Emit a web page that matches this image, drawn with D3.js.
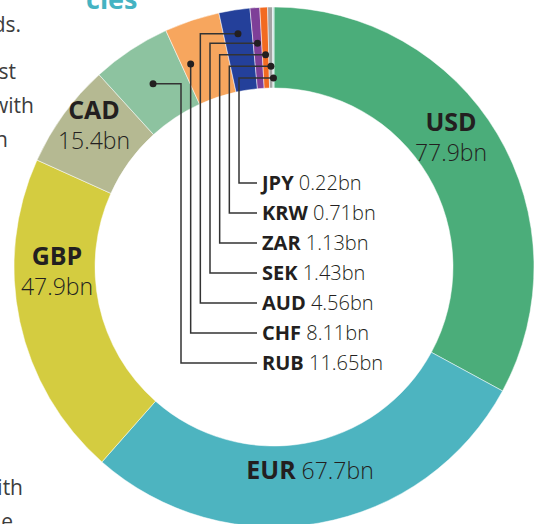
<!DOCTYPE html>
<html>
<head>
<meta charset="utf-8">
<script src="https://cdn.jsdelivr.net/npm/d3@7"></script>
<style>
  html, body { margin: 0; padding: 0; background: #fff; }
  svg { display: block; font-family: "Open Sans", "DejaVu Sans", sans-serif; }
</style>
</head>
<body>
<div id="chart"></div>
<script>
// currency reserves, in bn
const currencies = ['USD', 'EUR', 'GBP', 'CAD', 'RUB', 'CHF', 'AUD', 'SEK', 'ZAR', 'KRW', 'JPY'];
const valuesBn = [77.9, 67.7, 47.9, 15.4, 11.65, 8.11, 4.56, 1.43, 1.13, 0.71, 0.22];
const sliceColors = ['#4bad7a', '#4db4c0', '#d4cc40', '#b5b992', '#8dc3a0', '#f7a65e',
                     '#24409a', '#7e3f98', '#f26a21', '#a3a3a3', '#bfe2df'];
// the small slices get a leader line to a label stack
const calloutKeys = ['RUB', 'CHF', 'AUD', 'SEK', 'ZAR', 'KRW', 'JPY'];

const width = 544;
const height = 524;
const cx = 274, cy = 267;
const outerR = 260, innerR = 179;
const ink = '#231f20';

const data = currencies.map((c, i) => ({ key: c, value: valuesBn[i], color: sliceColors[i] }));

const svg = d3.select('#chart').append('svg')
  .attr('width', width)
  .attr('height', height);

// bits of the neighbouring page column, cut off by the crop
const bodyText = svg.append('g').attr('fill', '#3d3d3d').attr('font-size', 21).attr('text-anchor', 'end');
[['ds.', 21, 32], ['st', 16, 79], ['with', 34, 113], ['n', 8, 147], ['ith', 23, 495], ['e', 13, 529]]
  .forEach(([t, x, y]) => bodyText.append('text').attr('x', x).attr('y', y).text(t));

svg.append('text')
  .attr('x', 86).attr('y', 9)
  .attr('fill', '#45b3c2')
  .attr('font-size', 27)
  .attr('font-weight', 700)
  .text('cies');

const g = svg.append('g').attr('transform', `translate(${cx},${cy})`);

const pie = d3.pie().sort(null).value(d => d.value);
const arc = d3.arc().innerRadius(innerR).outerRadius(outerR);
const arcs = pie(data);

g.selectAll('path.slice')
  .data(arcs)
  .join('path')
  .attr('class', 'slice')
  .attr('d', arc)
  .attr('fill', d => d.data.color)
  .attr('stroke', '#fff')
  .attr('stroke-width', 0.5);

// big slices: label sits inside the ring
const bigLabels = {
  USD: { x: 451, y: 131, stacked: true },
  GBP: { x: 57, y: 265, stacked: true },
  CAD: { x: 94, y: 119, stacked: true },
  EUR: { x: 310, y: 479, stacked: false }
};

const bigG = svg.append('g').attr('fill', ink).attr('font-size', 23).attr('text-anchor', 'middle');
arcs.filter(d => bigLabels[d.data.key]).forEach(d => {
  const p = bigLabels[d.data.key];
  const t = bigG.append('text').attr('x', p.x).attr('y', p.y);
  t.append('tspan').attr('font-weight', 700).attr('font-size', 25).text(d.data.key);
  if (p.stacked) {
    t.append('tspan').attr('x', p.x).attr('dy', 30).attr('font-weight', 300).text(`${d.data.value}bn`);
  } else {
    t.append('tspan').attr('font-weight', 300).text(` ${d.data.value}bn`);
  }
});

// callouts
const rowY = d3.scalePoint().domain(calloutKeys.slice().reverse()).range([183, 363]);
const legX = d3.scalePoint().domain(calloutKeys).range([181, 239]);
const dotR = d3.scalePoint().domain(calloutKeys.slice(2)).range([236, 189]);
const labelX = 262;
const lineEnd = 257;

const calloutG = svg.append('g');
arcs.filter(d => calloutKeys.includes(d.data.key)).forEach(d => {
  const k = d.data.key;
  const r = calloutKeys.indexOf(k) < 2 ? (innerR + outerR) / 2 : dotR(k);
  let a = (d.startAngle + d.endAngle) / 2;
  const vx = legX(k);
  // if the leader can drop straight through the slice, hang the dot on it
  const span = d.endAngle - d.startAngle;
  const aDrop = 2 * Math.PI - Math.asin((cx - vx) / r);
  if (aDrop > d.startAngle + span * 0.1 && aDrop < d.endAngle - span * 0.1) a = aDrop;
  const px = cx + r * Math.sin(a);
  const py = cy - r * Math.cos(a);
  const y = rowY(k);

  calloutG.append('path')
    .attr('d', `M${px},${py}H${vx}V${y}H${lineEnd}`)
    .attr('fill', 'none')
    .attr('stroke', '#333')
    .attr('stroke-width', 1.5);
  calloutG.append('circle')
    .attr('cx', px).attr('cy', py).attr('r', 3.5)
    .attr('fill', ink);

  const t = calloutG.append('text')
    .attr('x', labelX).attr('y', y).attr('dy', '0.36em')
    .attr('fill', ink).attr('font-size', 20);
  t.append('tspan').attr('font-weight', 700).text(k);
  t.append('tspan').attr('font-weight', 300).text(` ${d.data.value}bn`);
});
</script>
</body>
</html>
